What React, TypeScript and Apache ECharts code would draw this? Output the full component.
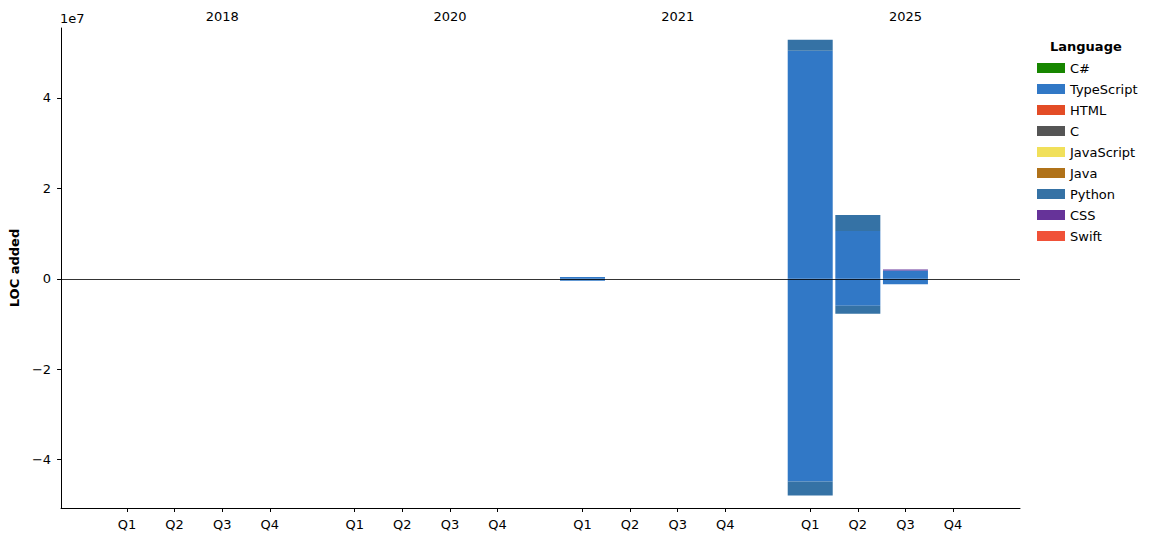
import React, { useEffect, useRef } from 'react';
import * as echarts from 'echarts';

// ---- Data ----
const years = ['2018', '2020', '2021', '2025'];
const quarters = ['Q1', 'Q2', 'Q3', 'Q4'];
const languages = ['C#', 'TypeScript', 'HTML', 'C', 'JavaScript', 'Java', 'Python', 'CSS', 'Swift'];
const colors = ['#178600', '#3178c6', '#e34c26', '#555555', '#f1e05a', '#b07219', '#3572a5', '#663399', '#f05138'];

// 16 quarters: 2018 Q1-Q4, 2020 Q1-Q4, 2021 Q1-Q4, 2025 Q1-Q4 (lines of code)
const csharpAdded       = [0, 0, 0, 0, 0, 0, 0, 0, 0, 0, 0, 0, 0, 0, 0, 0];
const csharpRemoved     = [0, 0, 0, 0, 0, 0, 0, 0, 0, 0, 0, 0, 0, 0, 0, 0];
const typescriptAdded   = [0, 0, 0, 0, 0, 0, 0, 0, 400000, 0, 0, 0, 50450000, 10600000, 1830000, 0];
const typescriptRemoved = [0, 0, 0, 0, 0, 0, 0, 0, -400000, 0, 0, 0, -44800000, -5970000, -1200000, 0];
const htmlAdded         = [0, 0, 0, 0, 0, 0, 0, 0, 0, 0, 0, 0, 0, 0, 0, 0];
const htmlRemoved       = [0, 0, 0, 0, 0, 0, 0, 0, 0, 0, 0, 0, 0, 0, 0, 0];
const cAdded            = [0, 0, 0, 0, 0, 0, 0, 0, 0, 0, 0, 0, 0, 0, 0, 0];
const cRemoved          = [0, 0, 0, 0, 0, 0, 0, 0, 0, 0, 0, 0, 0, 0, 0, 0];
const javascriptAdded   = [0, 0, 0, 0, 0, 0, 0, 0, 0, 0, 0, 0, 0, 0, 0, 0];
const javascriptRemoved = [0, 0, 0, 0, 0, 0, 0, 0, 0, 0, 0, 0, 0, 0, 0, 0];
const javaAdded         = [0, 0, 0, 0, 0, 0, 0, 0, 0, 0, 0, 0, 0, 0, 0, 0];
const javaRemoved       = [0, 0, 0, 0, 0, 0, 0, 0, 0, 0, 0, 0, 0, 0, 0, 0];
const pythonAdded       = [0, 0, 0, 0, 0, 0, 0, 0, 0, 0, 0, 0, 2430000, 3540000, 0, 0];
const pythonRemoved     = [0, 0, 0, 0, 0, 0, 0, 0, 0, 0, 0, 0, -3100000, -1770000, 0, 0];
const cssAdded          = [0, 0, 0, 0, 0, 0, 0, 0, 0, 0, 0, 0, 0, 0, 220000, 0];
const cssRemoved        = [0, 0, 0, 0, 0, 0, 0, 0, 0, 0, 0, 0, 0, 0, 0, 0];
const swiftAdded        = [0, 0, 0, 0, 0, 0, 0, 0, 0, 0, 0, 0, 0, 0, 0, 0];
const swiftRemoved      = [0, 0, 0, 0, 0, 0, 0, 0, 0, 0, 0, 0, 0, 0, 0, 0];

const addedByLang = [csharpAdded, typescriptAdded, htmlAdded, cAdded, javascriptAdded, javaAdded, pythonAdded, cssAdded, swiftAdded];
const removedByLang = [csharpRemoved, typescriptRemoved, htmlRemoved, cRemoved, javascriptRemoved, javaRemoved, pythonRemoved, cssRemoved, swiftRemoved];

const yTicks = [-40000000, -20000000, 0, 20000000, 40000000];

// ---- Layout helpers ----
const GROUP_STRIDE = 4.783;
const positions: number[] = [];
const posLabels: Record<string, string> = {};
years.forEach((_, g) => {
  quarters.forEach((q, k) => {
    const p = +(g * GROUP_STRIDE + k).toFixed(3);
    positions.push(p);
    posLabels[p.toFixed(3)] = q;
  });
});
const yearPositions = years.map((_, g) => +(g * GROUP_STRIDE + 2).toFixed(3));
const yearLabels: Record<string, string> = {};
yearPositions.forEach((p, g) => (yearLabels[p.toFixed(3)] = years[g]));

const FONT = 'DejaVu Sans';

export default function App() {
  const ref = useRef<HTMLDivElement>(null);
  useEffect(() => {
    if (!ref.current) return;
    const chart = echarts.init(ref.current, undefined, { renderer: 'svg' });

    const series: any[] = [];
    languages.forEach((name, i) => {
      // value first, position second, so the value dimension is the stacked one
      const mk = (arr: number[]) => arr.map((v, k) => [v === 0 ? null : v, positions[k]]);
      series.push({
        type: 'bar',
        name,
        stack: 'loc',
        barWidth: 45,
        encode: { x: 1, y: 0 },
        itemStyle: { color: colors[i] },
        data: mk(addedByLang[i]),
      });
      series.push({
        type: 'bar',
        name,
        stack: 'loc',
        barWidth: 45,
        encode: { x: 1, y: 0 },
        itemStyle: { color: colors[i] },
        data: mk(removedByLang[i]),
      });
    });
    // zero line
    series[series.length - 1].markLine = {
      silent: true,
      symbol: 'none',
      label: { show: false },
      lineStyle: { color: '#000', width: 0.8, type: 'solid' },
      data: [{ yAxis: 0 }],
    };

    chart.setOption({
      animation: false,
      textStyle: { fontFamily: FONT },
      grid: { left: 60, right: 138, top: 28, bottom: 34 },
      legend: {
        data: languages,
        orient: 'vertical',
        left: 1032,
        top: 56,
        icon: 'rect',
        itemWidth: 28,
        itemHeight: 10,
        itemGap: 7,
        textStyle: { fontFamily: FONT, fontSize: 13, color: '#000', lineHeight: 14 },
        selectedMode: false,
      },
      graphic: [
        {
          type: 'text',
          left: 1050,
          top: 40,
          style: { text: 'Language', font: `bold 13px "${FONT}"`, fill: '#000' },
        },
        {
          type: 'text',
          left: 60,
          top: 12,
          style: { text: '1e7', font: `13px "${FONT}"`, fill: '#000' },
        },
      ],
      xAxis: [
        {
          type: 'value',
          position: 'bottom',
          min: -1.385,
          max: 18.755,
          splitLine: { show: false },
          axisLine: { show: true, onZero: false, lineStyle: { color: '#000', width: 1 } },
          axisTick: { show: true, customValues: positions, length: 4, lineStyle: { color: '#000' } },
          axisLabel: {
            customValues: positions,
            margin: 10,
            fontSize: 13,
            color: '#000',
            fontFamily: FONT,
            formatter: (v: number) => posLabels[v.toFixed(3)] ?? '',
          },
        },
        {
          type: 'value',
          position: 'top',
          min: -1.385,
          max: 18.755,
          splitLine: { show: false },
          axisLine: { show: false },
          axisTick: { show: false },
          axisLabel: {
            customValues: yearPositions,
            margin: 5,
            fontSize: 13,
            color: '#000',
            fontFamily: FONT,
            formatter: (v: number) => yearLabels[v.toFixed(3)] ?? '',
          },
        },
      ],
      yAxis: {
        type: 'value',
        min: -50670000,
        max: 55470000,
        splitLine: { show: false },
        axisLine: { show: true, onZero: false, lineStyle: { color: '#000', width: 1 } },
        axisTick: { show: true, customValues: yTicks, length: 4, lineStyle: { color: '#000' } },
        axisLabel: {
          customValues: yTicks,
          margin: 10,
          fontSize: 13,
          color: '#000',
          fontFamily: FONT,
          formatter: (v: number) => {
            const s = v / 1e7;
            return s < 0 ? '\u2212' + Math.abs(s) : String(s);
          },
        },
        name: 'LOC added',
        nameLocation: 'middle',
        nameGap: 38,
        nameTextStyle: { fontFamily: FONT, fontSize: 13, fontWeight: 'bold', color: '#000' },
      },
      series,
    });
    return () => chart.dispose();
  }, []);
  return <div ref={ref} style={{ position: 'absolute', left: 0, top: 0, width: 1158, height: 542 }} />;
}
